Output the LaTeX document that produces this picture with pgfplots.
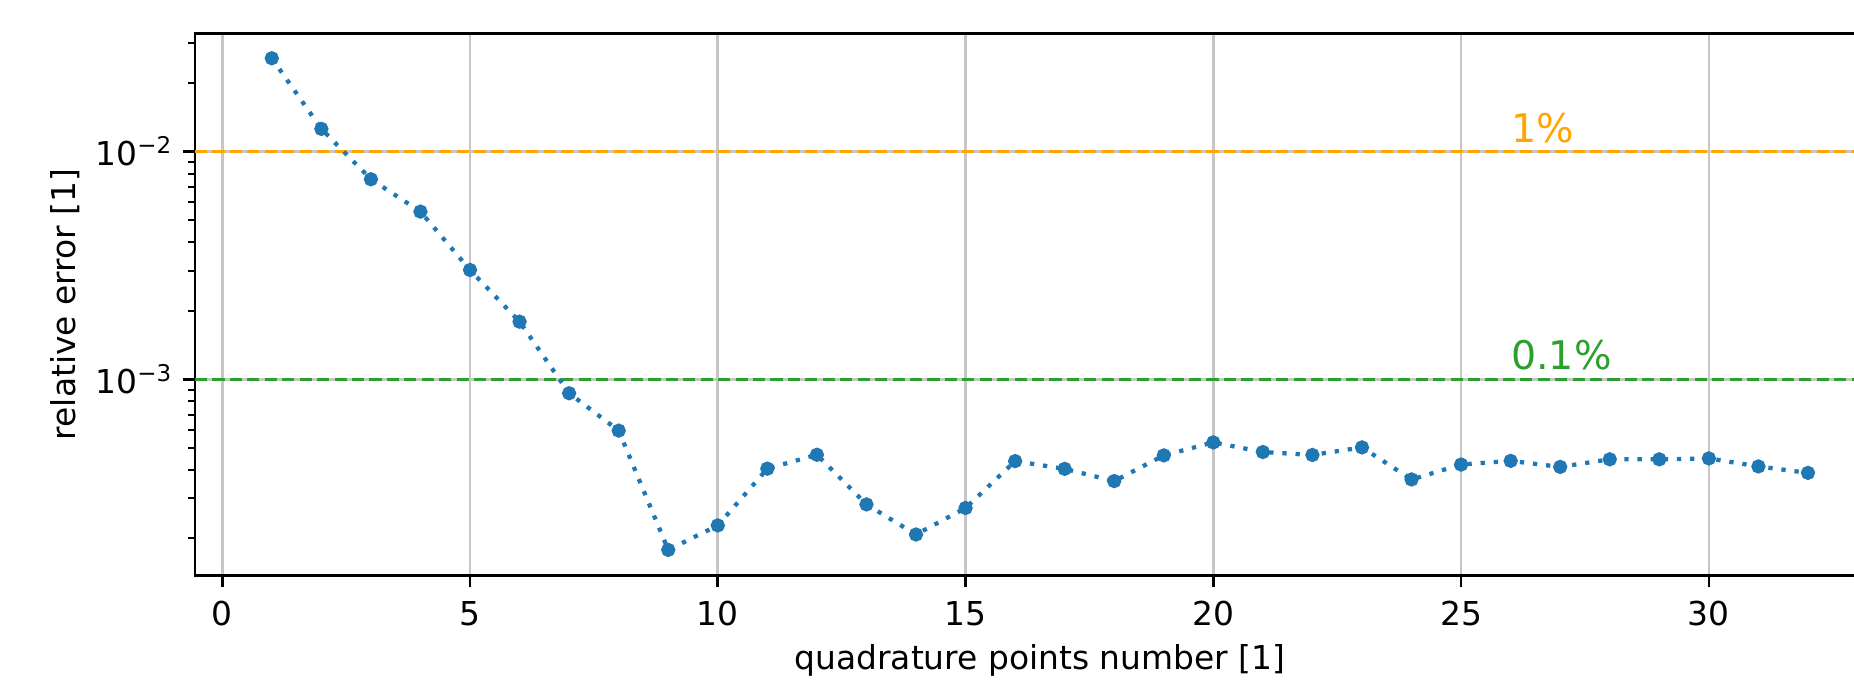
\documentclass[border=0pt]{standalone}
\usepackage{fontspec}
\setmainfont{DejaVu Sans}
\usepackage{pgfplots}
\pgfplotsset{compat=1.18}

\definecolor{errblue}{HTML}{1F77B4}
\definecolor{lvlorange}{HTML}{FFA500}
\definecolor{lvlgreen}{HTML}{2CA02C}
\definecolor{gridgray}{HTML}{C6C6C6}

\begin{document}
\begin{tikzpicture}
\begin{axis}[
  name=ax, at={(0pt,0pt)}, anchor=south west,
  scale only axis, width=513.6pt, height=164.9pt,
  xmin=-0.55, xmax=33.55,
  ymode=log, ymin=1.371e-4, ymax=0.03312,
  xtick={0,5,...,30},
  ytick={1e-3,1e-2},
  yticklabels={10\textsuperscript{−3},10\textsuperscript{−2}},
  minor ytick={2e-4,3e-4,4e-4,5e-4,6e-4,7e-4,8e-4,9e-4,
               2e-3,3e-3,4e-3,5e-3,6e-3,7e-3,8e-3,9e-3,2e-2,3e-2},
  tick align=outside, tick pos=left,
  major tick length=3.5pt, minor tick length=2pt,
  major tick style={black, line width=0.8pt},
  minor tick style={black, line width=0.6pt},
  axis line style={line width=0.8pt},
  xmajorgrids, ymajorgrids,
  major grid style={gridgray, line width=0.8pt},
  /pgf/number format/assume math mode=true,
  xticklabel style={inner sep=0pt, yshift=-4pt},
  yticklabel style={inner sep=0pt, xshift=-3pt},
  xlabel={quadrature points number [1]},
  ylabel={relative error [1]},
  xlabel style={at={(axis description cs:0.5,0)}, anchor=north, inner sep=0pt, yshift=-20.7pt},
  ylabel style={at={(axis description cs:-0.0675,0.5)}, anchor=south, inner sep=0pt},
]
% reference levels of 1% and 0.1%
\addplot[lvlorange, line width=1pt, dash pattern=on 3.7pt off 1.6pt]
  coordinates {(-0.55,0.01) (33.55,0.01)};
\addplot[lvlgreen, line width=1pt, dash pattern=on 3.7pt off 1.6pt]
  coordinates {(-0.55,0.001) (33.55,0.001)};

% relative error against the number of quadrature points
\addplot[errblue, line width=1.3pt, dash pattern=on 1.3pt off 2.7pt,
  mark=*, mark size=1.5pt, mark options={solid, draw=none, fill=errblue}]
  table {
n  err
1  0.0257
2  0.01258
3  0.00756
4  0.00545
5  0.00302
6  0.00179
7  0.000868
8  0.000595
9  0.000178
10 0.000228
11 0.000405
12 0.000466
13 0.000282
14 0.000208
15 0.000272
16 0.000437
17 0.000404
18 0.000357
19 0.000463
20 0.000528
21 0.000479
22 0.000465
23 0.000502
24 0.000363
25 0.000422
26 0.000438
27 0.000412
28 0.000445
29 0.000445
30 0.000449
31 0.000414
32 0.000388
};

\node[lvlorange, anchor=base west, inner sep=0pt, font=\fontsize{12}{14}\selectfont]
  at (axis cs:26,0.011) {1\%};
\node[lvlgreen, anchor=base west, inner sep=0pt, font=\fontsize{12}{14}\selectfont]
  at (axis cs:26,0.0011) {0.1\%};
\end{axis}
\pgfresetboundingbox
\useasboundingbox (-59.27pt,-32.31pt) rectangle (504.25pt,174.98pt);
\end{tikzpicture}
\end{document}
